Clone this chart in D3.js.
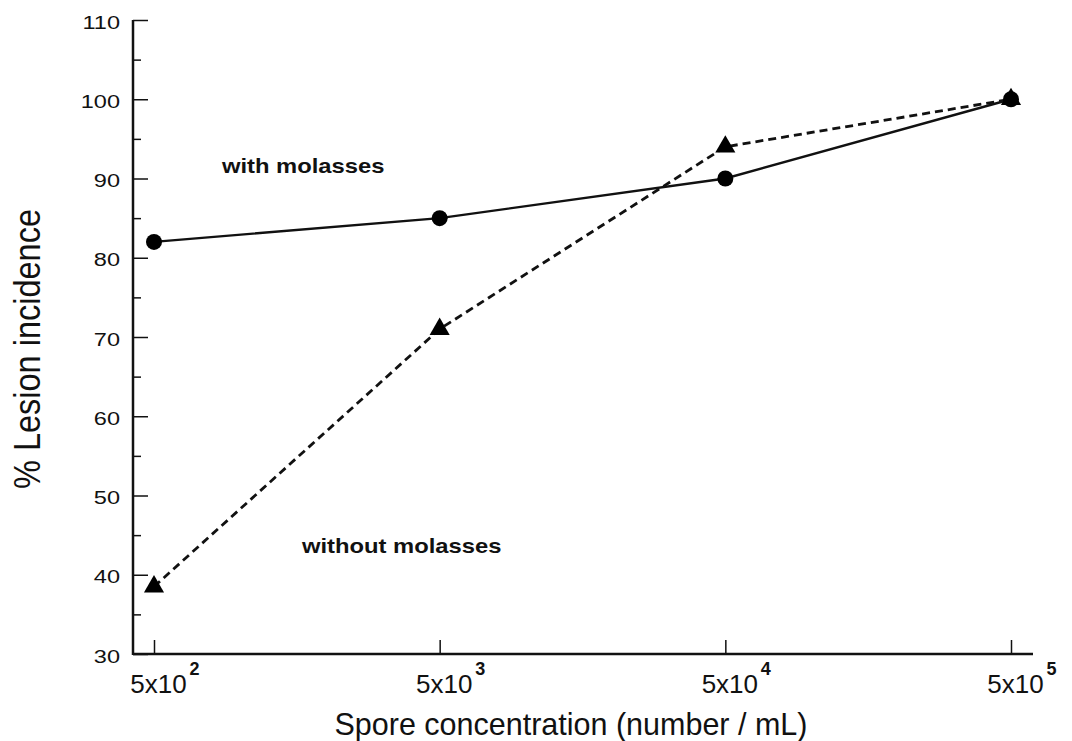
<!DOCTYPE html>
<html>
<head>
<meta charset="utf-8">
<script src="https://cdn.jsdelivr.net/npm/d3@7"></script>
<style>
  body { margin: 0; background: #fff; }
  svg text { font-family: "Liberation Sans", Arial, sans-serif; fill: #111; }
</style>
</head>
<body>
<svg id="chart"></svg>
<script>
// spore concentrations (number / mL) and lesion incidence (%)
var concentrations = [500, 5000, 50000, 500000];
var exponents = [2, 3, 4, 5];
var withMolasses = [82, 85, 90, 100];
var withoutMolasses = [38.5, 71, 94, 100];
var yTicks = [30, 40, 50, 60, 70, 80, 90, 100, 110];
var yMinorTicks = [35, 45, 55, 65, 75, 85, 95, 105];

var width = 1072,
    height = 741;

var svg = d3.select("#chart")
    .attr("width", width)
    .attr("height", height);

var axisLeftX = 133,
    axisRightX = 1033,
    axisBottomY = 654;

var x = d3.scaleLog()
    .domain([500, 500000])
    .range([154, 1011]);

var y = d3.scaleLinear()
    .domain([30, 110])
    .range([axisBottomY, 20]);

// y axis, ticks pointing inward
var yAxis = d3.axisLeft(y)
    .tickValues(yTicks)
    .tickSize(-15)
    .tickSizeOuter(0)
    .tickFormat("");

var gy = svg.append("g")
    .attr("transform", "translate(" + axisLeftX + ",0)")
    .call(yAxis);
gy.select(".domain").remove();
gy.selectAll(".tick line").attr("stroke", "#111").attr("stroke-width", 1.5);
// scanned labels are a bit wider than the font, so stretch them horizontally
gy.selectAll(".tick").append("text")
    .attr("transform", "translate(-13,8) scale(1.24,1)")
    .attr("text-anchor", "end")
    .style("font-size", "19px")
    .text(function(d) { return d; });

var gyMinor = svg.append("g")
    .attr("transform", "translate(" + axisLeftX + ",0)")
    .call(d3.axisLeft(y).tickValues(yMinorTicks).tickSize(-8).tickFormat(""));
gyMinor.select(".domain").remove();
gyMinor.selectAll(".tick line").attr("stroke", "#111").attr("stroke-width", 1.5);

svg.append("line")
    .attr("x1", axisLeftX).attr("x2", axisLeftX)
    .attr("y1", y(110)).attr("y2", axisBottomY + 1)
    .attr("stroke", "#111").attr("stroke-width", 2.5);

// x axis, log scale
var xAxis = d3.axisBottom(x)
    .tickValues(concentrations)
    .tickSize(-14)
    .tickSizeOuter(0)
    .tickFormat("");

var gx = svg.append("g")
    .attr("transform", "translate(0," + axisBottomY + ")")
    .call(xAxis);
gx.select(".domain").remove();
gx.selectAll(".tick line").attr("stroke", "#111").attr("stroke-width", 1.5);

gx.selectAll(".tick").each(function(d, i) {
    var g = d3.select(this);
    g.append("text")
        .attr("x", 4)
        .attr("y", 39)
        .attr("text-anchor", "middle")
        .style("font-size", "26px")
        .text("5x10");
    g.append("text")
        .attr("x", 40)
        .attr("y", 21)
        .style("font-size", "18px")
        .style("font-weight", "bold")
        .text(exponents[i]);
});

svg.append("line")
    .attr("x1", axisLeftX).attr("x2", axisRightX)
    .attr("y1", axisBottomY).attr("y2", axisBottomY)
    .attr("stroke", "#111").attr("stroke-width", 2.5);

// series
var line = d3.line()
    .x(function(d, i) { return x(concentrations[i]); })
    .y(function(d) { return y(d); });

svg.append("path")
    .datum(withoutMolasses)
    .attr("d", line)
    .attr("fill", "none")
    .attr("stroke", "#111")
    .attr("stroke-width", 2.8)
    .attr("stroke-dasharray", "8,5");

svg.append("path")
    .datum(withMolasses)
    .attr("d", line)
    .attr("fill", "none")
    .attr("stroke", "#111")
    .attr("stroke-width", 2.4);

svg.selectAll(".tri")
    .data(withoutMolasses)
    .enter().append("path")
    .attr("class", "tri")
    .attr("transform", function(d, i) { return "translate(" + x(concentrations[i]) + "," + y(d) + ")"; })
    .attr("d", d3.symbol().type(d3.symbolTriangle).size(175))
    .attr("fill", "#000");

svg.selectAll(".dot")
    .data(withMolasses)
    .enter().append("circle")
    .attr("class", "dot")
    .attr("cx", function(d, i) { return x(concentrations[i]); })
    .attr("cy", function(d) { return y(d); })
    .attr("r", 8)
    .attr("fill", "#000");

// series labels
svg.append("text")
    .attr("transform", "translate(222,173) scale(1.16,1)")
    .style("font-size", "20.5px")
    .style("font-weight", "bold")
    .text("with molasses");

svg.append("text")
    .attr("transform", "translate(302,553) scale(1.16,1)")
    .style("font-size", "20.5px")
    .style("font-weight", "bold")
    .text("without molasses");

// axis titles
svg.append("text")
    .attr("x", 571).attr("y", 735)
    .attr("text-anchor", "middle")
    .style("font-size", "30.5px")
    .text("Spore concentration (number / mL)");

svg.append("text")
    .attr("transform", "translate(40,349) rotate(-90) scale(1,1.15)")
    .attr("text-anchor", "middle")
    .style("font-size", "32.5px")
    .text("% Lesion incidence");
</script>
</body>
</html>
